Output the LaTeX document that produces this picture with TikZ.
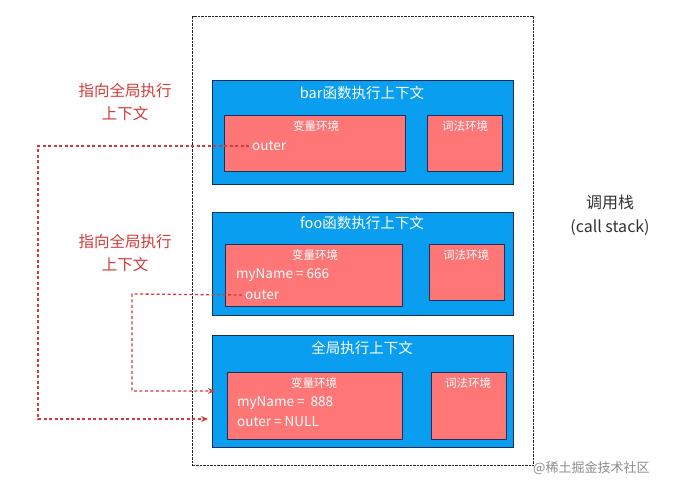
\documentclass[tikz,border=0pt]{standalone}
\usepackage{fontspec}
\setmainfont{Noto Sans CJK SC}
\usetikzlibrary{arrows.meta}
\definecolor{skyb}{HTML}{0A9EF0}
\definecolor{salmon}{HTML}{FF7676}
\definecolor{navy}{HTML}{1B2F5A}
\definecolor{redtxt}{HTML}{D43A3A}
\begin{document}
\begin{tikzpicture}[x=1pt,y=-1pt,
  frame/.style={draw=black!85, line width=1.3pt, dash pattern=on 2.5pt off 1pt, anchor=north west, inner sep=0},
  ctx/.style={draw=navy, fill=skyb, line width=0.8pt, anchor=north west, inner sep=0},
  env/.style={draw=navy, fill=salmon, line width=1pt, anchor=north west, inner sep=0},
  ttl/.style={text=white, font=\fontsize{14.5}{16}\selectfont},
  sublbl/.style={text=white, font=\fontsize{11.5}{13}\selectfont},
  code/.style={text=white, font=\fontsize{13.5}{15}\selectfont, anchor=west, inner sep=0},
  note/.style={text=redtxt, font=\fontsize{15.5}{23}\selectfont, align=center},
  ptr/.style={draw=redtxt, line width=1.3pt, dash pattern=on 3pt off 2.5pt, -{Stealth[length=7pt,width=6pt]}}
]
\useasboundingbox (0,0) rectangle (675,492);
\fill[white] (0,0) rectangle (675,492);
% call stack frame
\node[frame, minimum width=341pt, minimum height=449pt] (stack) at (192,16) {};
% bar context
\node[ctx, minimum width=301pt, minimum height=104pt] (bar) at (212,80) {};
\node[env, minimum width=181pt, minimum height=56pt] (barvar) at (224,115) {};
\node[env, minimum width=75pt, minimum height=56pt] (barlex) at (427,115) {};
\node[ttl] (bartitle) at (362,93) {bar函数执行上下文};
\node[sublbl] (barvarl) at (316,126) {变量环境};
\node[sublbl] (barlexl) at (465,126) {词法环境};
\node[code] (barouter) at (252,146) {outer};
% foo context
\node[ctx, minimum width=301pt, minimum height=103pt] (foo) at (212,212) {};
\node[env, minimum width=177pt, minimum height=62pt] (foovar) at (225,244) {};
\node[env, minimum width=75pt, minimum height=56pt] (foolex) at (429,244) {};
\node[ttl] (footitle) at (362,223) {foo函数执行上下文};
\node[sublbl] (foovarl) at (315,255) {变量环境};
\node[sublbl] (foolexl) at (466,255) {词法环境};
\node[code] (fooname) at (236,275) {myName = 666};
\node[code] (fooouter) at (245,295) {outer};
% global context
\node[ctx, minimum width=301pt, minimum height=112pt] (glob) at (212,335) {};
\node[env, minimum width=175pt, minimum height=67pt] (globvar) at (227,372) {};
\node[env, minimum width=75pt, minimum height=67pt] (globlex) at (431,372) {};
\node[ttl] (globtitle) at (362,348) {全局执行上下文};
\node[sublbl] (globvarl) at (314,383) {变量环境};
\node[sublbl] (globlexl) at (468,383) {词法环境};
\node[code] (globname) at (237,403) {myName =\ \ 888};
\node[code] (globouter) at (237,422) {outer = NULL};
% notes
\node[note] (note1) at (125,102) {指向全局执行\\上下文};
\node[note] (note2) at (125,253) {指向全局执行\\上下文};
\node[font=\fontsize{16}{24}\selectfont, text=black!80, align=center] (stacklbl) at (610,215) {调用栈\\(call stack)};
\node[anchor=west, text=black!45, font=\fontsize{13}{15}\selectfont, inner sep=0] (wm) at (533,468) {@稀土掘金技术社区};
% pointers
\coordinate (a1) at (38,146);
\coordinate (a2) at (38,419);
\coordinate (a3) at (208,419);
\coordinate (b1) at (132,294);
\coordinate (b2) at (132,391);
\coordinate (b3) at (215,391);
\draw[ptr, shorten <=3pt] (barouter.west) -- (a1) -- (a2) -- (a3);
\draw[ptr, shorten <=3pt] (fooouter.west) -- (b1) -- (b2) -- (b3);
\end{tikzpicture}
\end{document}
